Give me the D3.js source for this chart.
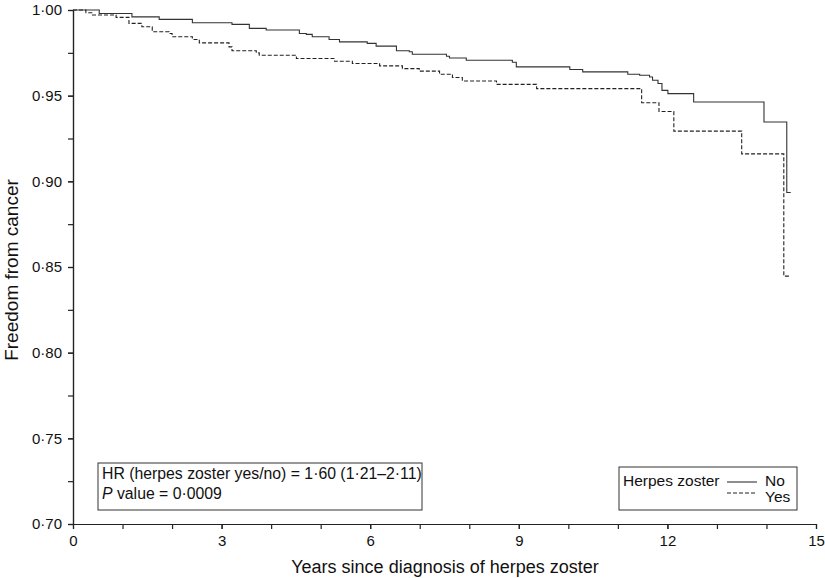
<!DOCTYPE html>
<html>
<head>
<meta charset="utf-8">
<script src="https://cdn.jsdelivr.net/npm/d3@7"></script>
<style>
  body { margin: 0; background: #fff; }
  svg text { font-family: "Liberation Sans", Arial, sans-serif; fill: #111; }
</style>
</head>
<body>
<div id="graph"></div>
<script>
const svgw = 825
const svgh = 578
const margin = {top: 10, right: 9, bottom: 54, left: 73}

// Kaplan-Meier steps: [years, survival]
const noSteps = [
  [0, 1.0], [0.53, 0.998], [1.19, 0.996], [1.74, 0.9945], [2.41, 0.9926], [3.21, 0.9916],
  [3.56, 0.9893], [3.90, 0.9883], [4.57, 0.9863], [4.71, 0.9858], [4.83, 0.9844],
  [5.17, 0.9828], [5.38, 0.9814], [5.94, 0.9805], [6.12, 0.9789], [6.53, 0.9762],
  [6.79, 0.9756], [6.85, 0.9742], [7.54, 0.9730], [7.60, 0.9720], [7.94, 0.9707],
  [8.87, 0.9695], [8.95, 0.9668], [10.03, 0.9653], [10.29, 0.9639], [11.20, 0.9625],
  [11.44, 0.9619], [11.64, 0.9609], [11.70, 0.9590], [11.81, 0.9571], [11.89, 0.9531],
  [12.01, 0.9512], [12.53, 0.9463], [13.95, 0.9346], [14.41, 0.8935]
]
const noEnd = 14.49

const yesSteps = [
  [0, 1.0], [0.26, 0.9984], [0.38, 0.9971], [0.87, 0.9957], [1.13, 0.9922], [1.39, 0.9902],
  [1.60, 0.9873], [1.94, 0.9863], [2.00, 0.9844], [2.41, 0.9828], [2.55, 0.9808],
  [3.15, 0.9785], [3.21, 0.9762], [3.70, 0.9750], [3.76, 0.9736], [4.51, 0.9717],
  [5.28, 0.9701], [5.64, 0.9688], [6.19, 0.9674], [6.65, 0.9658], [6.99, 0.9643],
  [7.40, 0.9625], [7.66, 0.9606], [7.86, 0.9586], [8.55, 0.9566], [9.36, 0.9541],
  [11.48, 0.9459], [11.83, 0.9408], [12.13, 0.9293], [13.50, 0.9160], [14.35, 0.8447]
]
const yesEnd = 14.47

const xTicks = [0, 3, 6, 9, 12, 15]
const yTicks = [0.70, 0.75, 0.80, 0.85, 0.90, 0.95, 1.00]
const hrText = "HR (herpes zoster yes/no) = 1·60 (1·21–2·11)"
const pText = " value = 0·0009"

const svg = d3.select('#graph')
    .append('svg')
    .attr('width', svgw)
    .attr('height', svgh)

const xScale = d3.scaleLinear()
    .domain([0, 15])
    .range([margin.left, svgw - margin.right])
const yScale = d3.scaleLinear()
    .domain([0.70, 1.00])
    .range([svgh - margin.bottom, margin.top])

const dot = s => s.replace('.', '·')

// minor ticks
svg.append('g')
    .attr('transform', `translate(0,${svgh - margin.bottom})`)
    .call(d3.axisBottom(xScale).tickValues(d3.range(0, 16, 1)).tickSize(5).tickFormat(''))
    .call(g => g.select('.domain').remove())
svg.append('g')
    .attr('transform', `translate(${margin.left},0)`)
    .call(d3.axisLeft(yScale).tickValues(d3.range(0.70, 1.001, 0.025)).tickSize(5).tickFormat(''))
    .call(g => g.select('.domain').remove())

const xAxis = svg.append('g')
    .attr('transform', `translate(0,${svgh - margin.bottom})`)
    .call(d3.axisBottom(xScale).tickValues(xTicks).tickSize(5).tickSizeOuter(0).tickPadding(6))
xAxis.selectAll('text').style('font-size', '15px')

const yAxis = svg.append('g')
    .attr('transform', `translate(${margin.left},0)`)
    .call(d3.axisLeft(yScale).tickValues(yTicks).tickSize(5).tickSizeOuter(0).tickPadding(6)
        .tickFormat(d => dot(d3.format('.2f')(d))))
yAxis.selectAll('text').style('font-size', '15px')

svg.selectAll('.domain, .tick line').attr('stroke', '#222').attr('stroke-width', 1.2)

// make sure the vertical axis line shows
svg.append('line')
    .attr('x1', xScale(0) + 0.5).attr('x2', xScale(0) + 0.5)
    .attr('y1', yScale(1.0)).attr('y2', yScale(0.70))
    .attr('stroke', '#222').attr('stroke-width', 1.2)

// survival step lines
function stepPath(steps, end) {
    const pts = steps.concat([[end, steps[steps.length - 1][1]]])
    return d3.line()
        .x(d => xScale(d[0]))
        .y(d => yScale(d[1]))
        .curve(d3.curveStepAfter)(pts)
}

svg.append('path')
    .attr('d', stepPath(noSteps, noEnd))
    .attr('fill', 'none')
    .attr('stroke', '#333')
    .attr('stroke-width', 1.1)

svg.append('path')
    .attr('d', stepPath(yesSteps, yesEnd))
    .attr('fill', 'none')
    .attr('stroke', '#222')
    .attr('stroke-width', 1.1)
    .attr('stroke-dasharray', '4,2')

// axis titles
svg.append('text')
    .attr('x', 445)
    .attr('y', 573)
    .attr('text-anchor', 'middle')
    .style('font-size', '18px')
    .text('Years since diagnosis of herpes zoster')

svg.append('text')
    .attr('transform', 'translate(18,270) rotate(-90)')
    .attr('text-anchor', 'middle')
    .style('font-size', '19px')
    .text('Freedom from cancer')

// HR box
svg.append('rect')
    .attr('x', 98).attr('y', 463)
    .attr('width', 324).attr('height', 47)
    .attr('fill', '#fff').attr('stroke', '#333').attr('stroke-width', 1)
svg.append('text')
    .attr('x', 102).attr('y', 479)
    .style('font-size', '15.8px')
    .text(hrText)
const pt = svg.append('text')
    .attr('x', 102).attr('y', 499)
    .style('font-size', '15.8px')
pt.append('tspan').style('font-style', 'italic').text('P')
pt.append('tspan').text(pText)

// legend box
svg.append('rect')
    .attr('x', 619).attr('y', 467)
    .attr('width', 178).attr('height', 43)
    .attr('fill', '#fff').attr('stroke', '#333').attr('stroke-width', 1)
svg.append('text')
    .attr('x', 623).attr('y', 486)
    .style('font-size', '15.5px')
    .text('Herpes zoster')
svg.append('line')
    .attr('x1', 727).attr('x2', 757).attr('y1', 482).attr('y2', 482)
    .attr('stroke', '#333').attr('stroke-width', 1.1)
svg.append('line')
    .attr('x1', 727).attr('x2', 757).attr('y1', 493).attr('y2', 493)
    .attr('stroke', '#222').attr('stroke-width', 1.1).attr('stroke-dasharray', '4,2')
svg.append('text')
    .attr('x', 765).attr('y', 486)
    .style('font-size', '15.5px')
    .text('No')
svg.append('text')
    .attr('x', 765).attr('y', 502)
    .style('font-size', '15.5px')
    .text('Yes')
</script>
</body>
</html>
